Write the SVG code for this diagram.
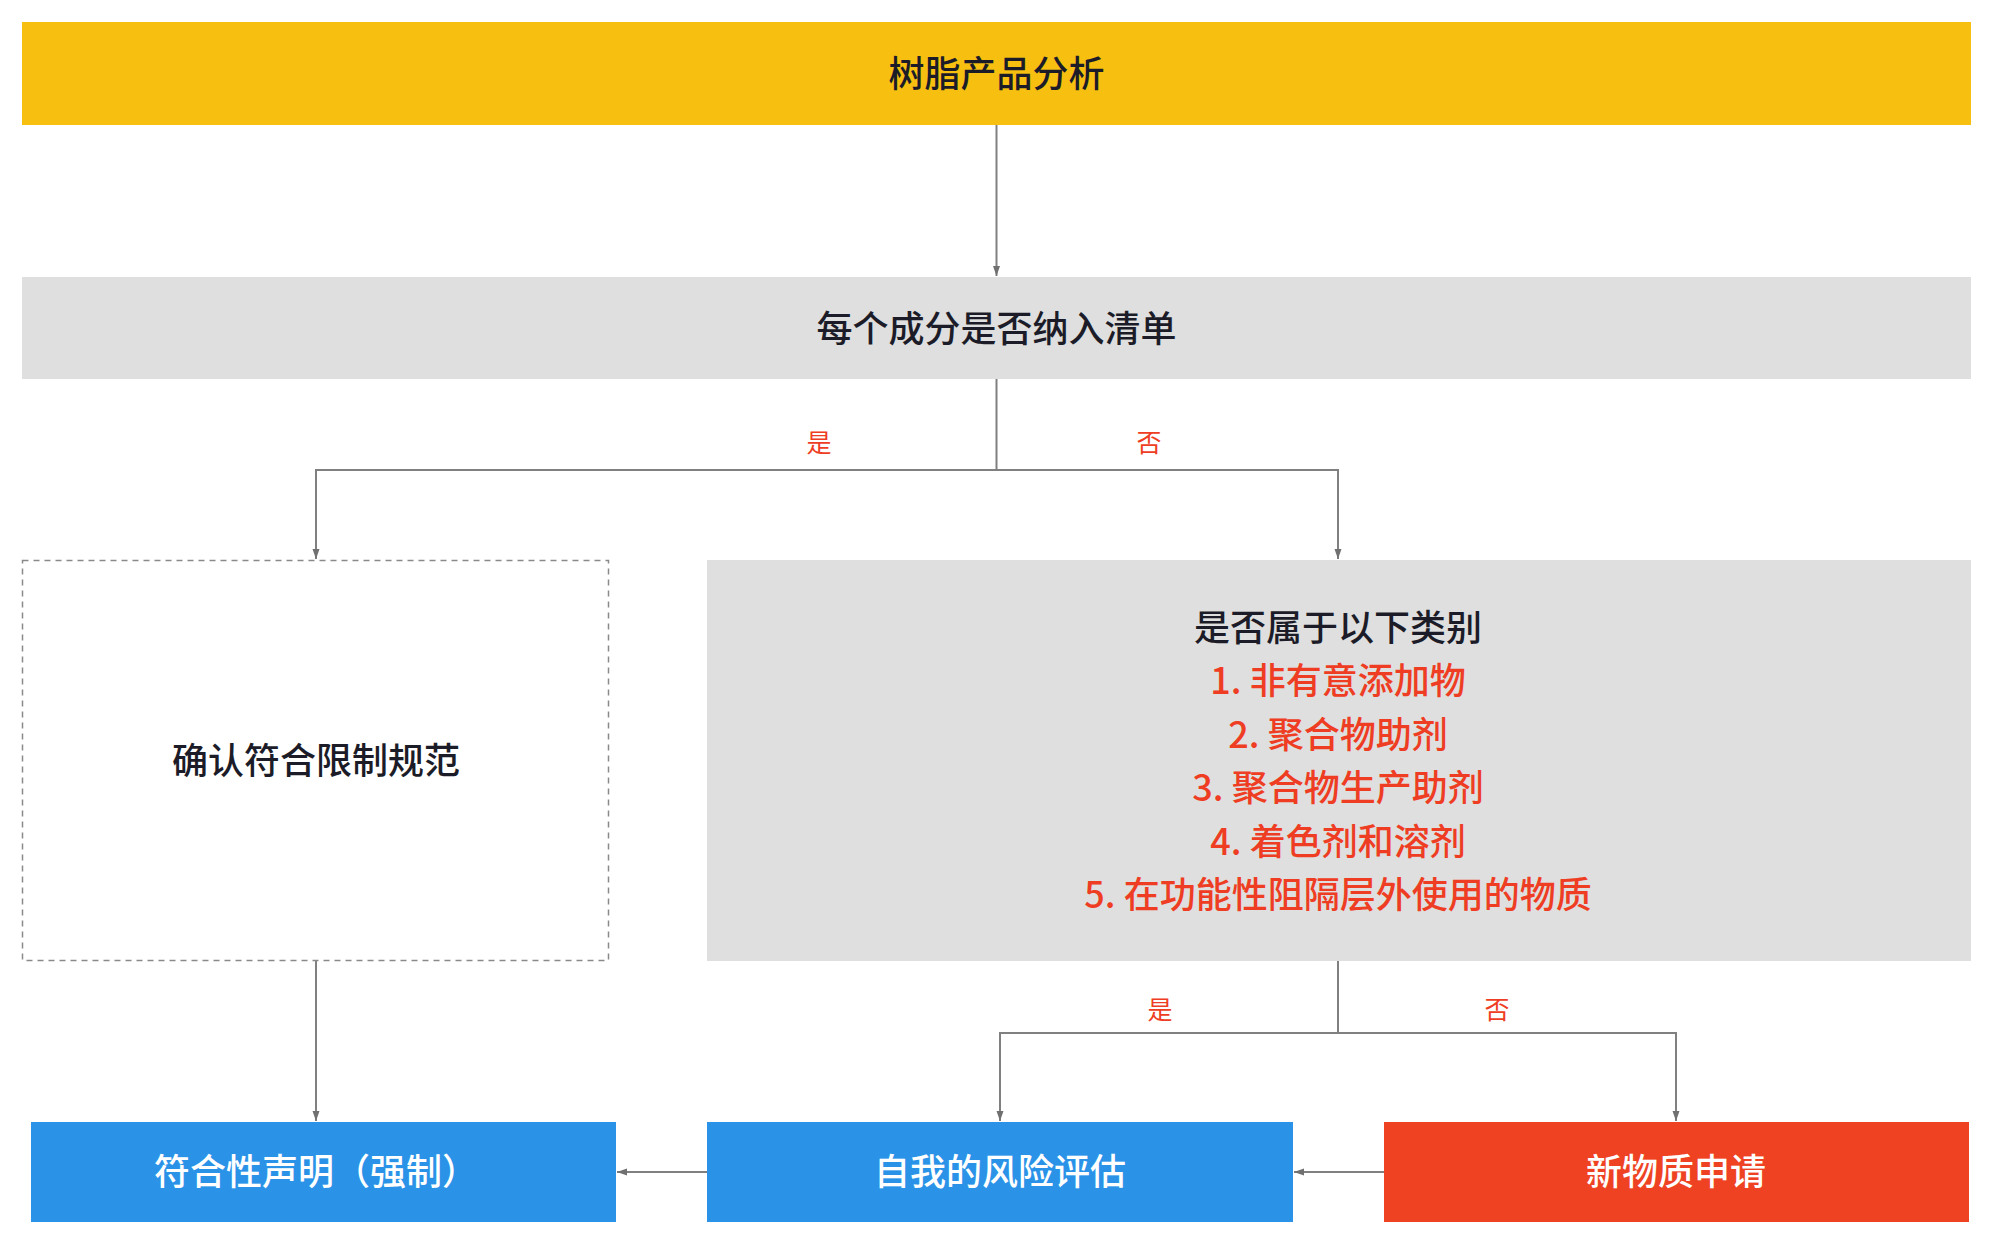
<svg xmlns="http://www.w3.org/2000/svg" width="1993" height="1247" viewBox="0 0 1993 1247">
<style>
text{font-family:"Noto Sans CJK SC","Noto Sans",sans-serif;text-anchor:middle;dominant-baseline:central;font-weight:500}
.t{font-size:36px;fill:#1c1c28}
.w{font-size:36px;fill:#ffffff}
.r{font-size:36px;fill:#ee3d23}
.lbl{font-size:25px;fill:#ee3d23;font-weight:400}
.ln{fill:none;stroke:#808080;stroke-width:2}
</style>
<defs>
<marker id="ah" viewBox="0 0 10 10" refX="10" refY="5" markerWidth="10" markerHeight="10" markerUnits="userSpaceOnUse" orient="auto">
<path d="M0,1.5 L10,5 L0,8.5 Z" fill="#707070"/>
</marker>
</defs>
<rect width="1993" height="1247" fill="#ffffff"/>
<g id="connectors">
<path class="ln" d="M996.5,125 V276" marker-end="url(#ah)"/>
<path class="ln" d="M996.5,379 V470 H316 V559" marker-end="url(#ah)"/>
<path class="ln" d="M996.5,470 H1338 V559" marker-end="url(#ah)"/>
<path class="ln" d="M316,961 V1121" marker-end="url(#ah)"/>
<path class="ln" d="M1338,961 V1033 H1000 V1121" marker-end="url(#ah)"/>
<path class="ln" d="M1338,1033 H1676 V1121" marker-end="url(#ah)"/>
<path class="ln" d="M707,1172 H617" marker-end="url(#ah)"/>
<path class="ln" d="M1384,1172 H1294" marker-end="url(#ah)"/>
<text class="lbl" x="819" y="441">是</text>
<text class="lbl" x="1149" y="441">否</text>
<text class="lbl" x="1160" y="1008">是</text>
<text class="lbl" x="1497" y="1008">否</text>
</g>
<g id="n1">
<rect x="22" y="22" width="1949" height="103" fill="#f7c010"/>
<text class="t" x="996.5" y="71">树脂产品分析</text>
</g>
<g id="n2">
<rect x="22" y="277" width="1949" height="102" fill="#dfdfdf"/>
<text class="t" x="996.5" y="326">每个成分是否纳入清单</text>
</g>
<g id="n3">
<rect x="22.5" y="560.5" width="586" height="400" fill="#ffffff" stroke="#8a8a8a" stroke-width="1.5" stroke-dasharray="6,5"/>
<text class="t" x="316" y="758">确认符合限制规范</text>
</g>
<g id="n4">
<rect x="707" y="560" width="1264" height="401" fill="#dfdfdf"/>
<text class="t" x="1338" y="625">是否属于以下类别</text>
<text class="r" x="1338" y="678">1. 非有意添加物</text>
<text class="r" x="1338" y="732">2. 聚合物助剂</text>
<text class="r" x="1338" y="785">3. 聚合物生产助剂</text>
<text class="r" x="1338" y="839">4. 着色剂和溶剂</text>
<text class="r" x="1338" y="892">5. 在功能性阻隔层外使用的物质</text>
</g>
<g id="n5">
<rect x="31" y="1122" width="585" height="100" fill="#2a93e8"/>
<text class="w" x="316" y="1169">符合性声明（强制）</text>
</g>
<g id="n6">
<rect x="707" y="1122" width="586" height="100" fill="#2a93e8"/>
<text class="w" x="1000" y="1169">自我的风险评估</text>
</g>
<g id="n7">
<rect x="1384" y="1122" width="585" height="100" fill="#ee4222"/>
<text class="w" x="1676" y="1169">新物质申请</text>
</g>
</svg>
